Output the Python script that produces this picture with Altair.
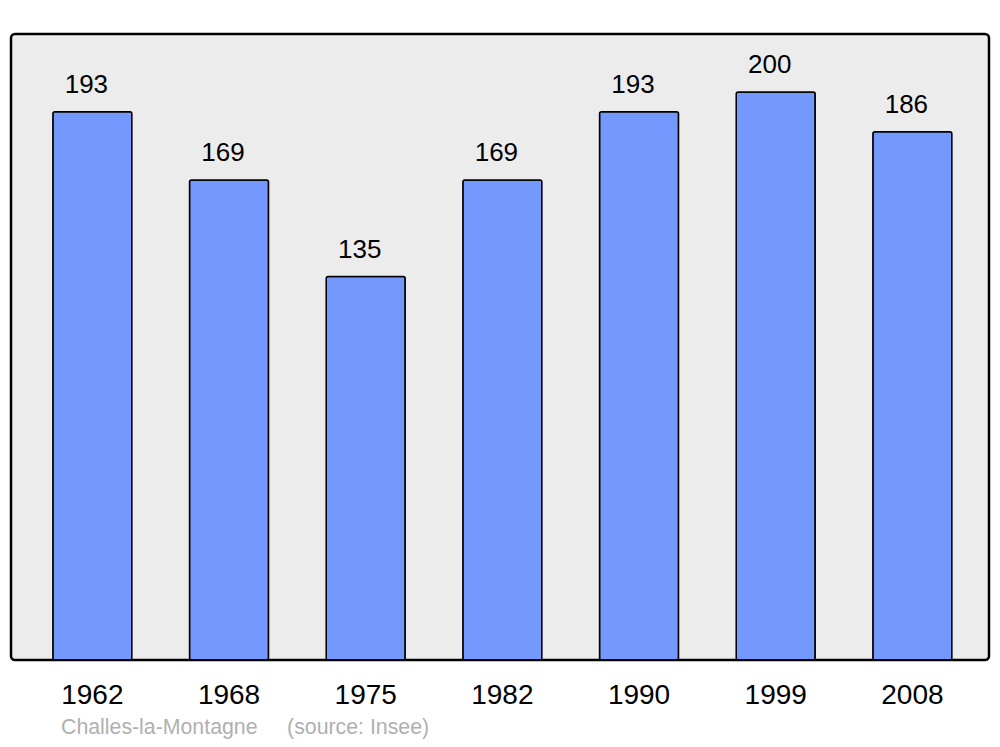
import altair as alt
import pandas as pd

years = ["1962", "1968", "1975", "1982", "1990", "1999", "2008"]
population = [193, 169, 135, 169, 193, 200, 186]
footer = ["Challes-la-Montagne\u00a0\u00a0\u00a0\u00a0 (source: Insee)"]

df = pd.DataFrame({"year": years, "pop": population})

x = alt.X("year:N", sort=years, title=None,
          scale=alt.Scale(paddingInner=0.422, paddingOuter=0.289, align=0.53),
          axis=alt.Axis(labelAngle=0, domain=False, ticks=False, labelFontSize=28,
                        labelColor="black", labelFont="Liberation Sans",
                        labelBaseline="middle", labelPadding=35))
y = alt.Y("pop:Q", title=None, scale=alt.Scale(domain=[0, 220.4], nice=False, zero=True),
          axis=None)

bars = alt.Chart(df).mark_bar(color="#7399ff", stroke="black", strokeWidth=1.5,
                              cornerRadius=2).encode(x=x, y=y)

labels = alt.Chart(df).mark_text(baseline="bottom", dy=-14, dx=-6, fontSize=26,
                                 font="Liberation Sans", color="black").encode(
    x=x, y=y, text="pop:Q")

foot = alt.Chart(pd.DataFrame({"t": footer})).mark_text(
    align="left", baseline="middle", fontSize=21.3, font="Liberation Sans",
    color="#b0b0b0").encode(x=alt.value(50), y=alt.value(694), text="t:N")

chart = alt.layer(bars, labels, foot).properties(
    width=978, height=626,
    autosize=alt.AutoSizeParams(type="none"),
    padding={"left": 3, "top": 26, "right": 3, "bottom": 79},
).configure_view(fill="#ececec", stroke="black", strokeWidth=2.5, cornerRadius=4)

chart.save("out.html", embed_options={"renderer": "svg", "actions": False})
